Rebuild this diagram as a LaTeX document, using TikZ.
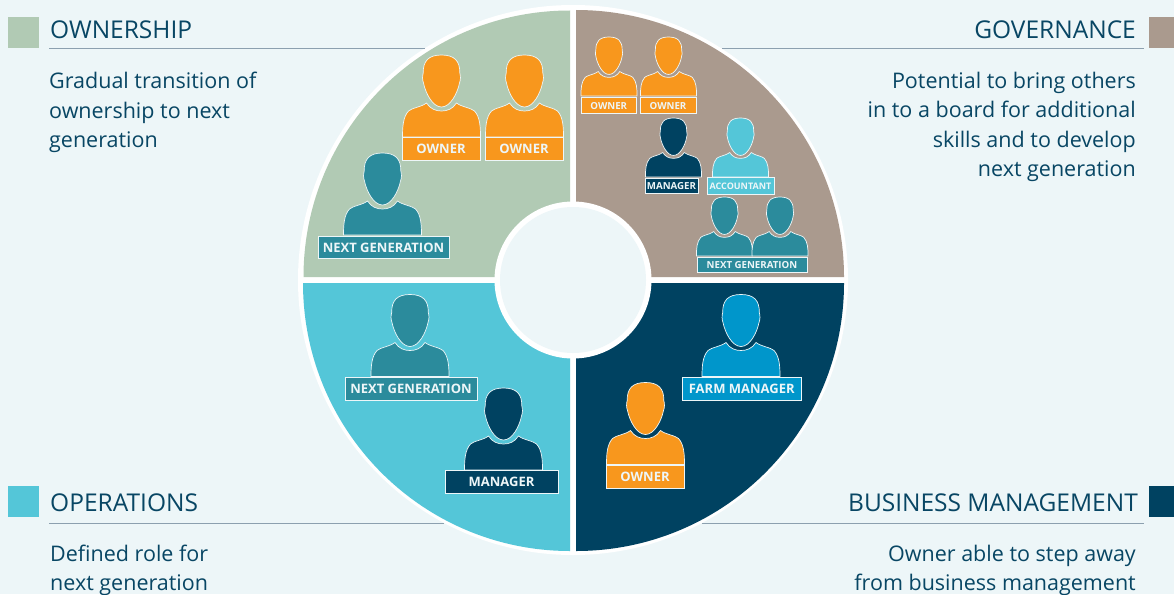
\documentclass[tikz,border=0pt]{standalone}
\usepackage{fontspec}
\setmainfont{Open Sans}
\usepackage{xcolor}
\definecolor{pagebg}{RGB}{237,246,248}
\definecolor{inkblue}{RGB}{8,70,100}
\definecolor{sagegreen}{RGB}{177,202,180}
\definecolor{taupe}{RGB}{170,154,142}
\definecolor{navy}{RGB}{0,66,97}
\definecolor{skyteal}{RGB}{84,198,216}
\definecolor{orangeowner}{RGB}{248,151,29}
\definecolor{tealnext}{RGB}{43,139,156}
\definecolor{bluefarm}{RGB}{0,150,203}
\definecolor{rulegrey}{RGB}{140,160,175}
\usetikzlibrary{positioning}
\tikzstyle{heading} = [font=\fontsize{24.5}{28}\selectfont, text=inkblue, inner sep=0pt]
\tikzstyle{body} = [font=\fontsize{21.5}{29.4}\selectfont, text=inkblue, inner sep=0pt]
\tikzstyle{swatch} = [minimum width=31pt, minimum height=31pt, inner sep=0pt]
\tikzstyle{swatchright} = [minimum width=25pt, minimum height=31pt, inner sep=0pt]
\tikzstyle{tag} = [draw=pagebg, line width=.8pt, text=pagebg, inner sep=0pt, font=\bfseries\fontsize{13}{13}\selectfont]
\tikzstyle{smalltag} = [tag, font=\bfseries\fontsize{9.7}{9.7}\selectfont]
\tikzstyle{tinytag} = [tag, font=\bfseries\fontsize{9}{9}\selectfont]
% head and shoulders, #1 x of head, #2 top of head, #3 scale, #4 colour
\newcommand{\person}[4]{
    \begin{scope}[shift={(#1,#2)}, scale=#3]
        \filldraw[fill=#4, draw=pagebg, line width=.7pt] (0,0)
            .. controls (-13,0) and (-18.5,6) .. (-18.3,18)
            .. controls (-19.2,21) and (-19.2,25) .. (-18,28)
            .. controls (-16,38) and (-9,52) .. (0,52)
            .. controls (9,52) and (16,38) .. (18,28)
            .. controls (19.2,25) and (19.2,21) .. (18.3,18)
            .. controls (18.5,6) and (13,0) .. (0,0) -- cycle;
        \filldraw[fill=#4, draw=pagebg, line width=.7pt] (-39,82)
            .. controls (-39,72) and (-38.5,62) .. (-33,56)
            .. controls (-30,53) and (-20,52) .. (-15,48)
            .. controls (-11,54) and (-6,56) .. (0,56)
            .. controls (6,56) and (11,54) .. (15,48)
            .. controls (20,52) and (30,53) .. (33,56)
            .. controls (38.5,62) and (39,72) .. (39,82) -- cycle;
    \end{scope}
}
% one tag of x from #1 to #2, y from #3 to #4
\newcommand{\tagbox}[8]{
    \node[#6, fill=#5, minimum width=#2-#1, minimum height=#4-#3] (#7) at ({(#1+#2)/2},{(#3+#4)/2}) {\raisebox{-.7pt}[\height][0pt]{#8}};
}
\begin{document}
\begin{tikzpicture}[x=1pt,y=-1pt]
    \fill[pagebg] (0,0) rectangle (1174,594);
    \useasboundingbox (0,0) rectangle (1174,594);

    % wheel
    \fill[white] (573,280) circle (275);
    \fill[sagegreen] (570,277) -- (570,10.5) arc (-90:-180:266.5 and 266.5) -- cycle;
    \fill[taupe] (576,277) -- (844,277) arc (0:-90:268 and 267) -- cycle;
    \fill[navy] (576,283) -- (576,551) arc (90:0:268) -- cycle;
    \fill[skyteal] (570,283) -- (303,283) arc (180:90:267 and 268) -- cycle;
    \fill[white] (573,280) circle (78.5);
    \fill[pagebg] (573,280) circle (73);

    % headings
    \node[swatch, fill=sagegreen] (ownswatch) at (23.5,32.5) {};
    \node[swatchright, fill=taupe] (govswatch) at (1161.5,32.5) {};
    \node[swatch, fill=skyteal] (opsswatch) at (23.5,501.5) {};
    \node[swatchright, fill=navy] (busswatch) at (1161.5,501.5) {};
    \node[heading, anchor=base west] (ownhead) at (50,39) {OWNERSHIP};
    \node[heading, anchor=base east] (govhead) at (1136,39) {GOVERNANCE};
    \node[heading, anchor=base west] (opshead) at (50,511) {OPERATIONS};
    \node[heading, anchor=base east] (bushead) at (1138,511) {BUSINESS MANAGEMENT};
    \draw[rulegrey] (49,48.5) -- (425,48.5);
    \draw[rulegrey] (722,48.5) -- (1144,48.5);
    \draw[rulegrey] (49,523.5) -- (444,523.5);
    \draw[rulegrey] (702,523.5) -- (1144,523.5);

    \node[body, anchor=north west, align=left] (owntext) at (49,72) {Gradual transition of\\ownership to next\\generation};
    \node[body, anchor=north east, align=right] (govtext) at (1136,72) {Potential to bring others\\in to a board for additional\\skills and to develop\\next generation};
    \node[body, anchor=north west, align=left] (opstext) at (50,544.5) {Defined role for\\next generation};
    \node[body, anchor=north east, align=right] (bustext) at (1136,544.5) {Owner able to step away\\from business management};

    % ownership
    \person{441.5}{55}{1}{orangeowner}
    \tagbox{402}{480}{137}{160}{orangeowner}{tag}{ownerA}{OWNER}
    \person{524.5}{55}{1}{orangeowner}
    \tagbox{485}{563}{137}{160}{orangeowner}{tag}{ownerB}{OWNER}
    \person{382.5}{153}{1}{tealnext}
    \tagbox{318}{449}{236}{258}{tealnext}{tag}{nextA}{NEXT GENERATION}

    % governance
    \person{609}{37}{.72}{orangeowner}
    \tagbox{581}{636.5}{97}{113}{orangeowner}{smalltag}{ownerC}{OWNER}
    \person{668.5}{37}{.72}{orangeowner}
    \tagbox{640}{696}{97}{113}{orangeowner}{smalltag}{ownerD}{OWNER}
    \person{673.5}{118}{.72}{navy}
    \tagbox{645}{698}{178}{193}{navy}{smalltag}{managerA}{MANAGER}
    \person{740.5}{118}{.72}{skyteal}
    \tagbox{707}{774}{177}{194}{skyteal}{tinytag}{accountant}{ACCOUNTANT}
    \person{724.5}{197}{.72}{tealnext}
    \person{780}{197}{.72}{tealnext}
    \tagbox{697}{807}{257}{272.5}{tealnext}{smalltag}{nextB}{NEXT GENERATION}

    % business management
    \person{741}{294.5}{1}{bluefarm}
    \tagbox{682}{801.5}{377}{400}{bluefarm}{tag}{farm}{FARM MANAGER}
    \person{645.5}{382.5}{1}{orangeowner}
    \tagbox{606}{684}{465}{488}{orangeowner}{tag}{ownerE}{OWNER}

    % operations
    \person{410}{294.5}{1}{tealnext}
    \tagbox{345}{477}{377}{400}{tealnext}{tag}{nextC}{NEXT GENERATION}
    \person{503.5}{388}{1}{navy}
    \tagbox{445}{558}{470}{493}{navy}{tag}{managerB}{MANAGER}
\end{tikzpicture}
\end{document}
